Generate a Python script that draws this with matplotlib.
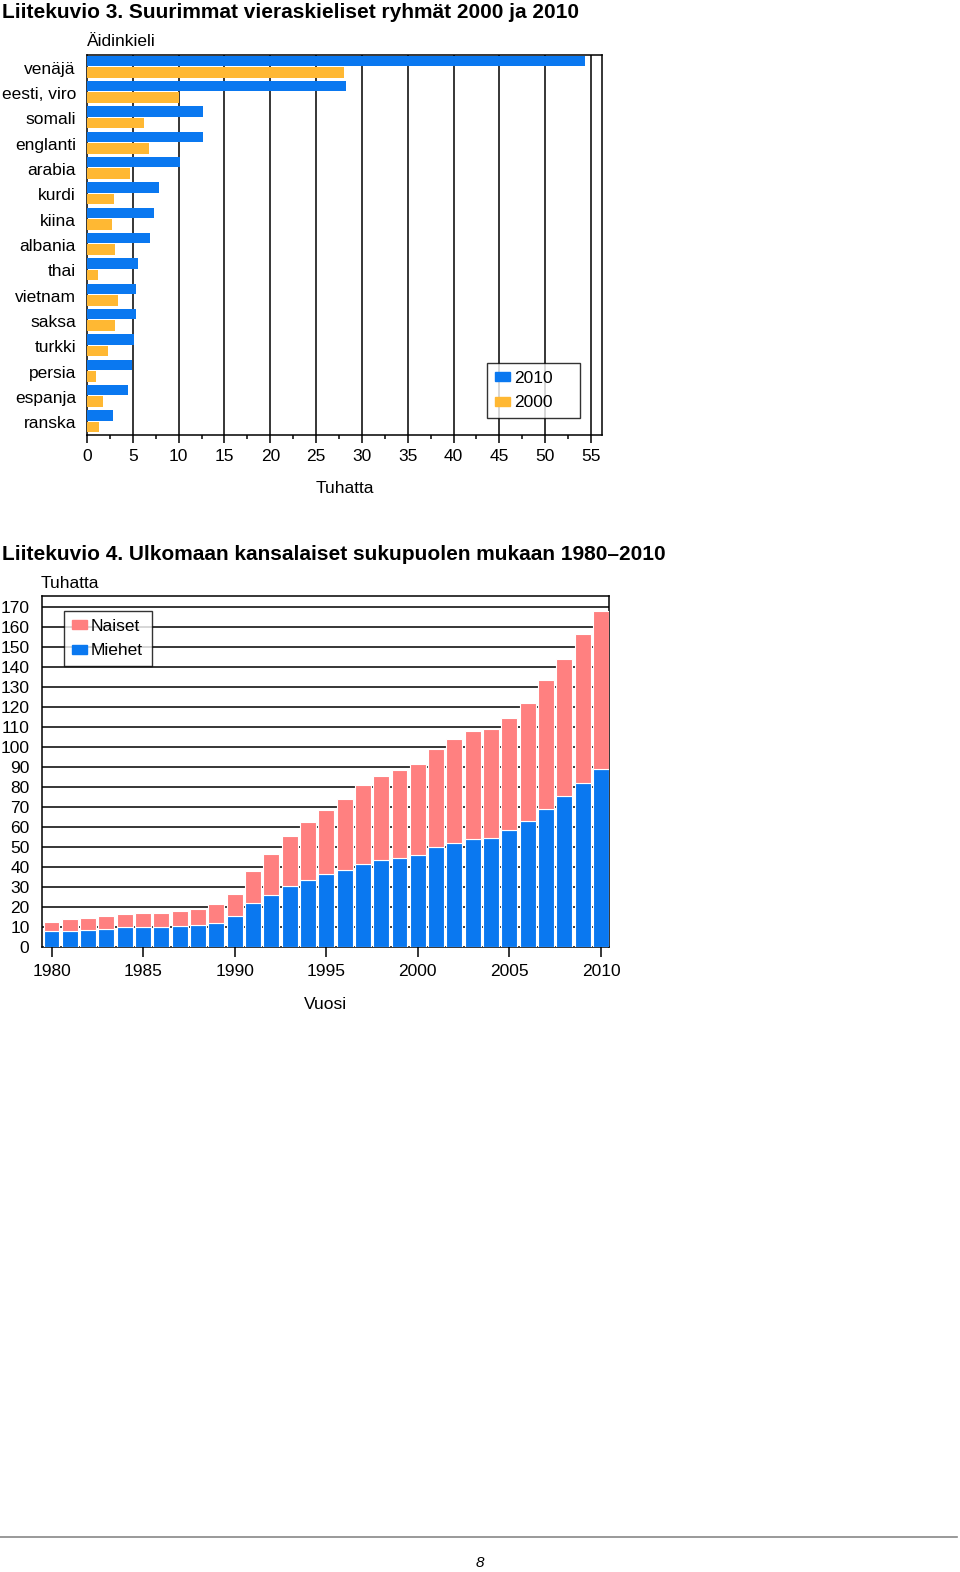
import matplotlib
matplotlib.use("Agg")
import matplotlib.pyplot as plt
from matplotlib.patches import Patch
from matplotlib.ticker import MultipleLocator
import numpy as np

plt.rcParams['font.family'] = ['Liberation Sans', 'DejaVu Sans']

# ---------------- data ----------------
languages = ["venäjä", "eesti, viro", "somali", "englanti", "arabia", "kurdi", "kiina",
             "albania", "thai", "vietnam", "saksa", "turkki", "persia", "espanja", "ranska"]
lang_2010 = [54.3, 28.3, 12.7, 12.7, 10.2, 7.9, 7.3, 6.9, 5.6, 5.4, 5.3, 5.1, 4.9, 4.5, 2.8]
lang_2000 = [28.0, 10.0, 6.2, 6.8, 4.7, 2.9, 2.7, 3.1, 1.2, 3.4, 3.1, 2.3, 1.0, 1.7, 1.3]

years = list(range(1980, 2011))
miehet = [7.8, 8.0, 8.5, 9.2, 9.8, 9.8, 9.8, 10.5, 11.0, 12.2, 15.5, 21.8, 26.0, 30.3, 33.5,
          36.7, 38.5, 41.7, 43.7, 44.7, 46.0, 49.8, 52.2, 54.0, 54.7, 58.5, 63.0, 69.2, 75.5,
          82.0, 89.0]
naiset = [4.9, 5.8, 5.8, 6.5, 6.7, 7.2, 7.2, 7.7, 7.8, 9.3, 11.0, 16.0, 20.5, 25.4, 29.2,
          32.0, 35.5, 39.1, 41.6, 43.6, 45.5, 49.0, 51.8, 53.8, 54.1, 56.0, 58.8, 64.1, 68.5,
          74.5, 79.2]

BLUE = "#0A78F0"
ORANGE = "#FFB833"
PINK = "#FF8080"

W, H = 960, 1572
fig = plt.figure(figsize=(W / 100, H / 100), dpi=100)

def fx(px):
    return px / W

def fy(py):
    return 1 - py / H

FS = 12.5

def make_legend(ax, handles, x0, y0, x1, y1):
    leg = ax.legend(handles=handles, loc="upper left", mode="expand",
                    bbox_to_anchor=(fx(x0), fy(y1), fx(x1) - fx(x0), fy(y0) - fy(y1)),
                    bbox_transform=fig.transFigure,
                    fontsize=FS, frameon=True, fancybox=False, edgecolor="black",
                    handlelength=0.85, handleheight=0.4, handletextpad=0.25,
                    labelspacing=0.55, borderpad=0.45, borderaxespad=0)
    leg.get_frame().set_linewidth(1.0)
    leg.set_zorder(5)
    return leg

# ---------------- chart 3 ----------------
fig.text(fx(2), fy(13), "Liitekuvio 3. Suurimmat vieraskieliset ryhmät 2000 ja 2010",
         fontsize=15, fontweight="bold", ha="left", va="center")

ax1 = fig.add_axes([fx(87), fy(435), fx(602) - fx(87), fy(55) - fy(435)])
y = np.arange(len(languages))
ax1.barh(y - 0.27, lang_2010, height=0.40, color=BLUE, zorder=3, label="2010")
ax1.barh(y + 0.19, lang_2000, height=0.42, color=ORANGE, zorder=3, label="2000")
ax1.set_ylim(len(languages) - 0.5, -0.5)
ax1.set_xlim(0, 56.2)
ax1.set_yticks(y)
ax1.set_yticklabels(languages, fontsize=FS)
ax1.tick_params(axis="y", length=0, pad=8)
ax1.set_xticks(np.arange(0, 56, 5))
ax1.xaxis.set_minor_locator(MultipleLocator(2.5))
ax1.tick_params(axis="x", which="major", direction="out", length=6, width=1.1, labelsize=FS, pad=4)
ax1.tick_params(axis="x", which="minor", direction="out", length=3, width=1.1)
for v in range(5, 56, 5):
    ax1.axvline(v, color="black", lw=1.1, zorder=1)
for s in ax1.spines.values():
    s.set_linewidth(1.1)
ax1.set_xlabel("Tuhatta", fontsize=FS, labelpad=12)
fig.text(fx(87), fy(41), "Äidinkieli", fontsize=FS, ha="left", va="center")
make_legend(ax1, [Patch(color=BLUE, label="2010"), Patch(color=ORANGE, label="2000")],
            487, 363, 580, 413)

# ---------------- chart 4 ----------------
fig.text(fx(2), fy(555), "Liitekuvio 4. Ulkomaan kansalaiset sukupuolen mukaan 1980–2010",
         fontsize=15, fontweight="bold", ha="left", va="center")

ax2 = fig.add_axes([fx(42), fy(947), fx(609) - fx(42), fy(596) - fy(947)])
ax2.bar(years, miehet, width=0.87, color=BLUE, edgecolor="white", linewidth=0.8, zorder=3)
ax2.bar(years, naiset, width=0.87, bottom=miehet, color=PINK, edgecolor="white", linewidth=0.8, zorder=3)
ax2.set_xlim(1979.48, 2010.44)
ax2.set_ylim(0, 175.5)
ax2.set_yticks(np.arange(0, 171, 10))
ax2.tick_params(axis="y", length=0, pad=9, labelsize=FS)
ax2.set_xticks(np.arange(1980, 2011, 5))
ax2.tick_params(axis="x", direction="out", length=7, width=1.1, labelsize=FS, pad=5)
for v in range(10, 171, 10):
    ax2.axhline(v, color="black", lw=1.1, zorder=1)
for s in ax2.spines.values():
    s.set_linewidth(1.1)
ax2.set_xlabel("Vuosi", fontsize=FS, labelpad=13)
fig.text(fx(41), fy(583), "Tuhatta", fontsize=FS, ha="left", va="center")
make_legend(ax2, [Patch(color=PINK, label="Naiset"), Patch(color=BLUE, label="Miehet")],
            64, 611, 152, 661)

# ---------------- footer ----------------
fig.add_artist(plt.Line2D([fx(0), fx(957)], [fy(1537), fy(1537)], color="#888888", lw=1.2))
fig.text(fx(480), fy(1563), "8", fontsize=11, style="italic", ha="center", va="center")

fig.savefig("out.png", dpi=100)
